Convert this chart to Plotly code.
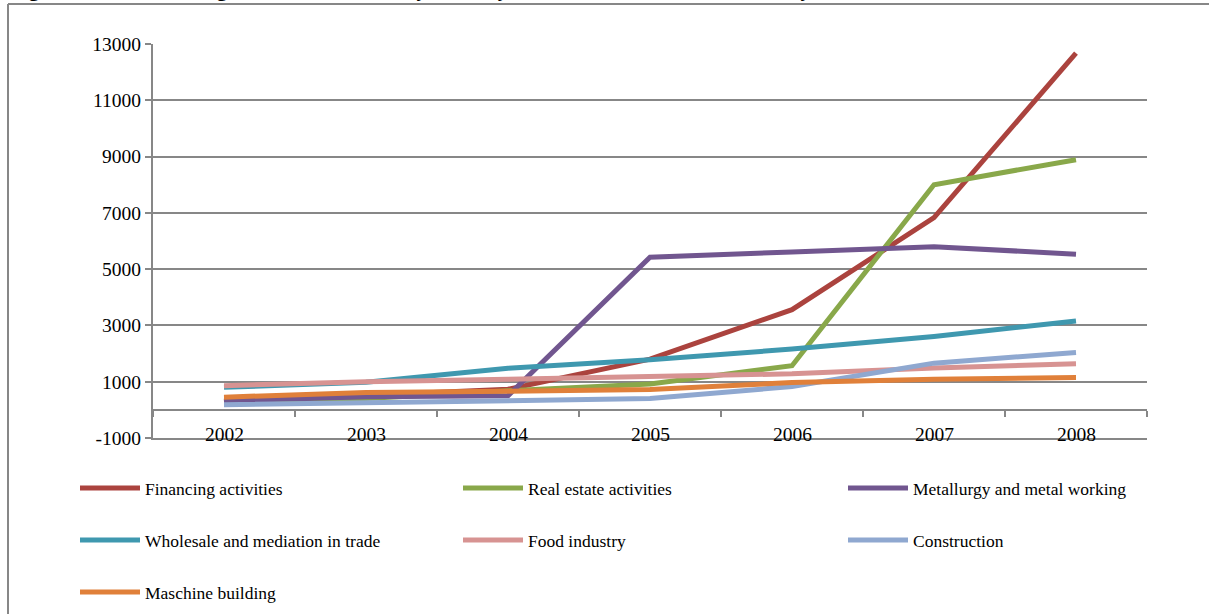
import plotly.graph_objects as go

years = ["2002", "2003", "2004", "2005", "2006", "2007", "2008"]

financing = [300, 500, 730, 1800, 3560, 6830, 12680]
real_estate = [290, 400, 680, 920, 1570, 8000, 8890]
metallurgy = [320, 470, 500, 5420, 5610, 5800, 5530]
wholesale = [800, 980, 1480, 1780, 2160, 2610, 3160]
food = [860, 1000, 1090, 1190, 1280, 1490, 1640]
construction = [180, 240, 300, 400, 830, 1660, 2040]
machine = [450, 620, 660, 720, 970, 1090, 1150]

series_names = ["Financing activities", "Real estate activities", "Metallurgy and metal working",
                "Wholesale and mediation in trade", "Food industry", "Construction",
                "Maschine building"]
series_values = [financing, real_estate, metallurgy, wholesale, food, construction, machine]
series_colors = ["#AB433E", "#89A84A", "#71568F", "#3F98AF", "#D79392", "#8FA8D0", "#E0803A"]

y_ticks = [-1000, 1000, 3000, 5000, 7000, 9000, 11000, 13000]
y_tick_labels = [str(v) for v in y_ticks]

title_text = "Figure 4: Stock of foreign direct investment by industry, 2002-2008, USD million, end of year"

FONT = "Liberation Serif"
GRID = "#878787"

W, H = 1210, 614
ML, MR, MT, MB = 153, 63, 44, 176
PW, PH = W - ML - MR, H - MT - MB

# legend layout: 3 columns, rows of 52 px (legend box left x, row centre y), window pixels
LEG_COL_X = [75, 458, 843]
LEG_ROW_Y = [488, 540, 592]


def px_x(p):
    return (p - ML) / PW


def px_y(p):
    return (H - MB - p) / PH


xi = list(range(len(years)))
ymin, ymax = y_ticks[0], y_ticks[-1]

fig = go.Figure()
legend_layout = {}
for k, (name, vals, col) in enumerate(zip(series_names, series_values, series_colors)):
    lg = "legend" if k == 0 else f"legend{k + 1}"
    fig.add_trace(go.Scatter(x=xi, y=vals, mode="lines", name=name,
                             line=dict(color=col, width=5), legend=lg))
    legend_layout[lg] = dict(
        xref="container", yref="container",
        x=LEG_COL_X[k % 3] / W, y=1 - LEG_ROW_Y[k // 3] / H,
        xanchor="left", yanchor="middle", orientation="v", itemwidth=60,
        bgcolor="rgba(0,0,0,0)",
        font=dict(family=FONT, size=17.5, color="black"))

# helper trace for the category axis drawn at y = 0
fig.add_trace(go.Scatter(x=[], y=[], xaxis="x2", yaxis="y", showlegend=False,
                         hoverinfo="skip"))

fig.update_layout(
    width=W, height=H,
    margin=dict(l=ML, r=MR, t=MT, b=MB, pad=0, autoexpand=False),
    paper_bgcolor="white", plot_bgcolor="white",
    font=dict(family=FONT, size=19.5, color="black"),
    xaxis=dict(range=[-0.5, len(years) - 0.5], tickvals=xi, ticktext=years,
               showticklabels=False, ticks="", showline=True, linecolor=GRID,
               linewidth=1.5, showgrid=False, zeroline=False),
    xaxis2=dict(overlaying="x", anchor="free", position=(0 - ymin) / (ymax - ymin),
                range=[-0.5, len(years) - 0.5],
                tickvals=[i - 0.5 for i in range(len(years) + 1)],
                showticklabels=False, ticks="outside", ticklen=6, tickwidth=1.5,
                tickcolor=GRID, showline=True, linecolor=GRID, linewidth=2,
                showgrid=False, zeroline=False),
    yaxis=dict(range=[ymin, ymax], tickvals=y_ticks, ticktext=y_tick_labels,
               ticks="outside", ticklen=6, tickwidth=1.5, tickcolor=GRID,
               showline=True, linecolor=GRID, linewidth=2,
               showgrid=True, gridcolor=GRID, gridwidth=1.5, zeroline=False,
               tickfont=dict(family=FONT, size=19.5, color="black")),
    showlegend=True,
    **legend_layout,
)

# category labels sitting on the bottom gridline
for i, yr in zip(xi, years):
    fig.add_annotation(text=yr, x=i, y=ymin, xref="x", yref="y",
                       xanchor="center", yanchor="middle", yshift=4,
                       showarrow=False, font=dict(family=FONT, size=19.5, color="black"))

# outer chart frame (left and top edges; the rest lies beyond the window)
fig.add_shape(type="line", xref="paper", yref="paper",
              x0=px_x(8), x1=px_x(8), y0=px_y(4), y1=px_y(620),
              line=dict(color=GRID, width=2))
fig.add_shape(type="line", xref="paper", yref="paper",
              x0=px_x(8), x1=px_x(1209), y0=px_y(4), y1=px_y(4),
              line=dict(color=GRID, width=2))

# title cut off by the top of the window
fig.add_annotation(text="<b>" + title_text + "</b>", xref="paper", yref="paper",
                   x=px_x(8), y=px_y(3), xanchor="left", yanchor="bottom",
                   showarrow=False, font=dict(family=FONT, size=21, color="black"))

fig.write_html("out.html",
               config={"displayModeBar": False},
               post_script="document.body.style.margin='0';document.body.style.overflow='hidden';")
